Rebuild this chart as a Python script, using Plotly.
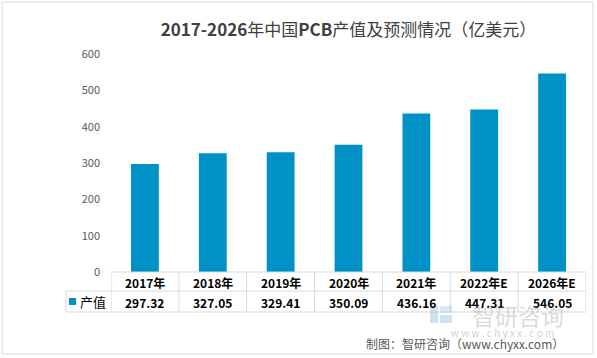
import plotly.graph_objects as go

categories = ["2017年", "2018年", "2019年", "2020年", "2021年", "2022年E", "2026年E"]
values = [297.32, 327.05, 329.41, 350.09, 436.16, 447.31, 546.05]
value_labels = ["297.32", "327.05", "329.41", "350.09", "436.16", "447.31", "546.05"]
series_name = "产值"
y_ticks = [0, 100, 200, 300, 400, 500, 600]

W, H = 597, 358
L, R, T, B = 111, 586, 54, 272  # plot area in pixels
BAR_COLOR = "#0091C6"
GRID = "#D9D9D9"
FONT = "Noto Sans CJK SC"


def px_x(px):
    return (px - L) / (R - L)


def px_y(py):
    return (B - py) / (B - T)


fig = go.Figure()
fig.add_trace(go.Bar(
    x=categories, y=values, name=series_name,
    marker=dict(color=BAR_COLOR, line=dict(width=0)),
    showlegend=False, hoverinfo="x+y",
))

n = len(categories)
row_top, row_mid, row_bot = 272, 291, 312
shapes = []
shapes.append(dict(type="line", xref="paper", yref="paper", x0=0, x1=1,
                   y0=px_y(row_top), y1=px_y(row_top), line=dict(color=GRID, width=1)))
for yy in (row_mid, row_bot):
    shapes.append(dict(type="line", xref="paper", yref="paper", x0=px_x(66), x1=1,
                       y0=px_y(yy), y1=px_y(yy), line=dict(color=GRID, width=1)))
for i in range(n + 1):
    shapes.append(dict(type="line", xref="x", yref="paper", x0=i - 0.5, x1=i - 0.5,
                       y0=px_y(row_top), y1=px_y(row_bot), line=dict(color=GRID, width=1)))
shapes.append(dict(type="line", xref="paper", yref="paper", x0=px_x(66), x1=px_x(66),
                   y0=px_y(row_mid), y1=px_y(row_bot), line=dict(color=GRID, width=1)))
# legend key square
shapes.append(dict(type="rect", xref="paper", yref="paper", x0=px_x(69), x1=px_x(76),
                   y0=px_y(305), y1=px_y(298), fillcolor=BAR_COLOR, line=dict(width=0)))
# watermark logo (light)
shapes.append(dict(type="rect", xref="paper", yref="paper", x0=px_x(430), x1=px_x(438),
                   y0=px_y(323), y1=px_y(306), fillcolor="rgba(120,170,215,0.35)", line=dict(width=0)))
shapes.append(dict(type="rect", xref="paper", yref="paper", x0=px_x(440), x1=px_x(452),
                   y0=px_y(323), y1=px_y(315), fillcolor="rgba(120,170,215,0.35)", line=dict(width=0)))
shapes.append(dict(type="rect", xref="paper", yref="paper", x0=px_x(440), x1=px_x(452),
                   y0=px_y(313), y1=px_y(306), fillcolor="rgba(120,170,215,0.25)", line=dict(width=0)))
# outer border
shapes.append(dict(type="rect", xref="paper", yref="paper", x0=px_x(2), x1=px_x(593),
                   y0=px_y(354), y1=px_y(2), line=dict(color="#D9D9D9", width=1)))

annotations = []
for c, v in zip(categories, value_labels):
    annotations.append(dict(x=c, xref="x", y=px_y(282), yref="paper", text="<b>" + c + "</b>",
                            xanchor="center", yanchor="middle", showarrow=False,
                            font=dict(family=FONT, size=12, color="#000000")))
    annotations.append(dict(x=c, xref="x", y=px_y(302), yref="paper", text="<b>" + v + "</b>",
                            xanchor="center", yanchor="middle", showarrow=False,
                            font=dict(family=FONT, size=12, color="#000000")))
annotations.append(dict(x=px_x(78), xref="paper", y=px_y(301), yref="paper", text=series_name,
                        xanchor="left", yanchor="middle", showarrow=False,
                        font=dict(family=FONT, size=13, color="#000000")))
# watermark text
annotations.append(dict(x=px_x(518), xref="paper", y=px_y(315), yref="paper", text="智研咨询",
                        xanchor="center", yanchor="middle", showarrow=False,
                        font=dict(family=FONT, size=23, color="rgba(160,160,160,0.4)")))
annotations.append(dict(x=px_x(502), xref="paper", y=px_y(332), yref="paper",
                        text="w w w . c h y x x . c o m", xanchor="center", yanchor="middle",
                        showarrow=False, font=dict(family=FONT, size=10, color="rgba(160,160,160,0.5)")))
# source
annotations.append(dict(x=px_x(566), xref="paper", y=px_y(343), yref="paper", xanchor="right",
                        yanchor="middle", text="制图：智研咨询（www.chyxx.com）", showarrow=False,
                        font=dict(family=FONT, size=12, color="#595959")))

fig.update_layout(
    width=W, height=H,
    margin=dict(l=L, r=W - R, t=T, b=H - B),
    paper_bgcolor="#FFFFFF", plot_bgcolor="#FFFFFF",
    bargap=0.59,
    title=dict(text="<b>2017-2026</b>年中国<b>PCB</b>产值及预测情况（亿美元）",
               x=0.5, xref="paper", xanchor="center", y=1 - 30 / H, yanchor="middle",
               font=dict(family=FONT, size=17, color="#404040")),
    xaxis=dict(showticklabels=False, showgrid=False, zeroline=False, showline=False,
               ticks="", range=[-0.5, n - 0.5]),
    yaxis=dict(range=[0, 600], tickvals=y_ticks, showgrid=False, zeroline=False,
               showline=False, ticks="", ticklabelstandoff=10,
               tickfont=dict(family=FONT, size=11, color="#595959")),
    shapes=shapes, annotations=annotations,
    font=dict(family=FONT),
)

fig.write_html("out.html", config={"displayModeBar": False},
               post_script="document.body.style.margin='0';document.body.style.overflow='hidden';")
